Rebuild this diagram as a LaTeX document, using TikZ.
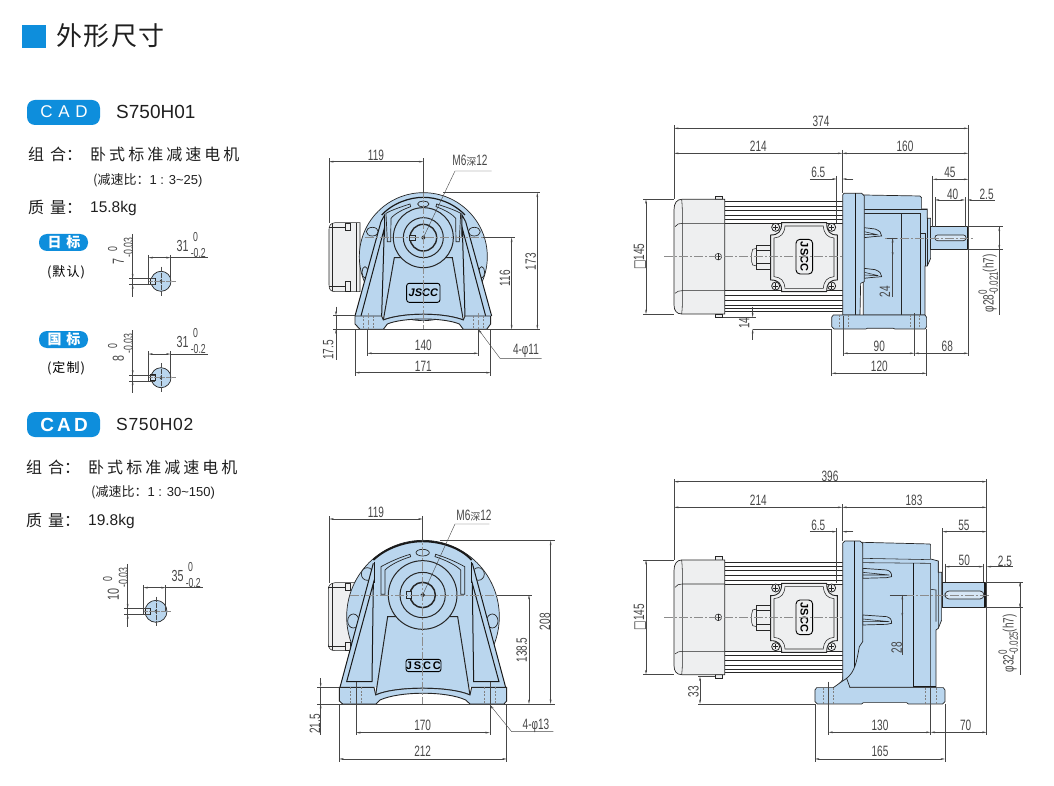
\documentclass[tikz,border=0pt]{standalone}
\usepackage{fontspec}
\usetikzlibrary{arrows.meta}
\setmainfont{Liberation Sans}
\newfontfamily\cjk[LetterSpace=19]{Noto Sans CJK SC}
\newfontfamily\cjkplain{Noto Sans CJK SC}
\newfontfamily\cjktitle[LetterSpace=6]{Noto Sans CJK SC}
\newfontfamily\cjknote[LetterSpace=8]{Noto Sans CJK SC}
\newfontfamily\codefont[LetterSpace=4]{Liberation Sans}
\newfontfamily\dimfont[FakeStretch=0.67]{Liberation Sans}
\newfontfamily\symfont[FakeStretch=0.67]{DejaVu Sans}
\definecolor{bodyblue}{RGB}{186,214,238}
\definecolor{motorgray}{RGB}{238,239,240}
\definecolor{capblue}{RGB}{14,142,220}
\definecolor{inkgray}{RGB}{70,70,70}
\tikzset{
	zoomed/.style={x=.3333pt,y=-.3333pt},
	part/.style={draw=black!85,line width=.7pt,fill=bodyblue},
	gpart/.style={draw=black!85,line width=.55pt,fill=motorgray},
	edge/.style={draw=black!85,line width=.55pt},
	heavy/.style={draw=black!90,line width=1pt},
	dim/.style={draw=inkgray,line width=.4pt,>={Stealth[length=4.5pt,width=1.8pt]}},
	axisline/.style={draw=black!45,line width=.5pt,dash pattern=on 9pt off 2pt on 2pt off 2pt},
	hidden/.style={draw=black!50,line width=.45pt,dash pattern=on 2pt off 1.5pt},
	dimtext/.style={font=\dimfont\fontsize{15}{17}\selectfont,text=inkgray,inner sep=0pt},
	vtext/.style={dimtext,rotate=90},
	sidetext/.style={anchor=west,inner sep=0pt,text=black!88},
	pill/.style={fill=capblue,rounded corners=8pt},
	jsccbox/.style={draw=black,line width=.9pt,fill=bodyblue,rounded corners=2.5pt}
}
\newcommand\tol[2]{\rlap{\raisebox{.85ex}{\fontsize{12}{12}\selectfont #1}}\raisebox{-.55ex}{\fontsize{12}{12}\selectfont #2}}
\newcommand\smalldim{\fontsize{13}{13}\selectfont}
% key detail: #1 place, #2 radius, #3 height, #4 width
\newcommand\keyview[4]{
	\begin{scope}[shift={#1},zoomed]
		\draw[part] (0,0) circle (#2);
		\draw[part,fill=bodyblue!70!white] (-33,-9) rectangle (-18,9);
		\fill[black!85] (0,0) circle (5);
		\draw[axisline,dash pattern=on 5pt off 1pt] (-38,0) -- (45,0);
		\draw[axisline,dash pattern=on 5pt off 1pt,draw=black!70] (0,-44) -- (0,46);
		\draw[dim] (-85,-142) -- (-85,46);
		\draw[dim] (-95,-9) -- (-18,-9);
		\draw[dim] (-95,9) -- (-18,9);
		\draw[dim,->] (-85,-30) -- (-85,-9);
		\draw[dim,->] (-85,30) -- (-85,9);
		\draw[dim] (-38,-79) -- (-38,9);
		\draw[dim] (29,-79) -- (29,0);
		\draw[dim,<->] (-38,-71) -- (29,-71);
		\draw[dim] (29,-71) -- (140,-71);
		\node[vtext,anchor=east,font=\dimfont\fontsize{16}{17}\selectfont] (keyh) at (-128,-68) {#3};
		\node[vtext] (keyh0) at (-145,-96) {\smalldim 0};
		\node[vtext] (keyhs) at (-98,-102) {\smalldim -0.03};
		\node[dimtext,font=\dimfont\fontsize{16}{17}\selectfont] (keyw) at (65,-107) {#4};
		\node[dimtext] (keyw0) at (104,-134) {\smalldim 0};
		\node[dimtext] (keyws) at (112,-86) {\smalldim -0.2};
	\end{scope}
}
% motor seen from the side, axis at y=440
\newcommand\motorside{
	\fill[white] (284,275) rectangle (640,605);
	\fill[motorgray] (284,340) rectangle (640,542);
	\foreach \ry in {275,288,300,315,328,340,542,555,570,585,595,605}
		\draw[edge] (284,\ry) -- (640,\ry);
	\draw[gpart] (255,268) -- (255,258) -- (278,258) -- (278,268) -- cycle;
	\draw[gpart] (255,612) -- (255,622) -- (278,622) -- (278,612) -- cycle;
	\draw[gpart,line width=.7pt] (284,268) -- (155,268) .. controls (140,268) and (132,280) .. (132,300) -- (132,585) .. controls (132,602) and (140,612) .. (155,612) -- (284,612) -- cycle;
	\draw[edge] (155,268) .. controls (158,300) and (157,320) .. (157,340) -- (157,542) .. controls (157,570) and (158,590) .. (155,612);
	\draw[edge] (135,350) .. controls (140,342) and (148,340) .. (157,340) -- (284,340);
	\draw[edge] (135,550) .. controls (140,544) and (148,542) .. (157,542) -- (284,542);
	\draw[edge] (265,440) circle (10);
	\draw[edge] (255,440) -- (275,440) (265,430) -- (265,450);
	% gland
	\draw[gpart] (380,415) -- (368,418) -- (365,430) -- (365,455) -- (368,465) -- (380,468) -- cycle;
	\draw[gpart] (380,405) rectangle (422,478);
	\draw[edge] (380,420) -- (422,420) (380,460) -- (422,460);
	% terminal box
	\draw[gpart,line width=.9pt] (455,338) -- (590,338) .. controls (590,365) and (600,375) .. (622,375) -- (622,510) .. controls (600,510) and (590,520) .. (590,545) -- (455,545) .. controls (455,520) and (445,510) .. (422,510) -- (422,375) .. controls (445,375) and (455,365) .. (455,338) -- cycle;
	\draw[edge] (465,348) -- (580,348) .. controls (582,372) and (592,382) .. (612,384) -- (612,500) .. controls (592,502) and (582,512) .. (580,535) -- (465,535) .. controls (463,512) and (453,502) .. (432,500) -- (432,384) .. controls (453,382) and (463,372) .. (465,348) -- cycle;
	\foreach \sx/\sy in {437/352,605/352,437/528,605/528}{
		\draw[gpart,line width=.8pt] (\sx,\sy) circle (12);
		\draw[edge] (\sx-8,\sy) -- (\sx+8,\sy) (\sx,\sy-8) -- (\sx,\sy+8);
	}
	\draw[jsccbox,fill=motorgray,rounded corners=4pt] (498,388) rectangle (548,492);
	\node[rotate=-90,inner sep=0pt,font=\bfseries\fontsize{11}{12}\selectfont] (sidelogo) at (523,440) {JSCC};
	\draw[axisline] (102,440) -- (655,440);
	\draw[axisline,dash pattern=on 8pt off 2pt] (665,440) -- (795,440);
}
\begin{document}
\begin{tikzpicture}[x=1pt,y=-1pt]
	\useasboundingbox (0,0) rectangle (1054,786);

	% left column
	\fill[capblue] (22,25) rectangle (46,48);
	\node[sidetext,font=\cjktitle\fontsize{26}{28}\selectfont] (title) at (56,36) {外形尺寸};

	\fill[pill] (27,100) rectangle (100,125);
	\node[inner sep=0pt,text=white,font=\fontsize{17}{18}\selectfont] (cadone) at (64,112) {C\,\,A\,\,D};
	\node[sidetext,font=\fontsize{19}{20}\selectfont] (codeone) at (116,112) {S750H01};
	\node[sidetext,font=\cjkplain\fontsize{16}{18}\selectfont] (combone) at (28,154) {组\hspace{6pt}合：};
	\node[sidetext,font=\cjk\fontsize{16}{18}\selectfont] (nameone) at (90,154) {卧式标准减速电机};
	\node[sidetext,font=\cjkplain\fontsize{13}{14}\selectfont] (ratioone) at (93,180) {(减速比：{\fontspec{Liberation Sans}1 : 3\textasciitilde25)}};
	\node[sidetext,font=\cjkplain\fontsize{16}{18}\selectfont] (massone) at (28,207) {质\hspace{6pt}量：};
	\node[sidetext,font=\fontsize{15.5}{18}\selectfont] (kgone) at (90,208) {15.8kg};
	\fill[pill] (39,234) rectangle (88,251);
	\node[inner sep=0pt,text=white,font=\cjkplain\bfseries\fontsize{14}{15}\selectfont] (jpstd) at (64,242.5) {日\hspace{5pt}标};
	\node[inner sep=0pt,font=\cjknote\fontsize{13}{14}\selectfont] (jpnote) at (66,272) {(默认)};
	\fill[pill] (39,331) rectangle (88,348);
	\node[inner sep=0pt,text=white,font=\cjkplain\bfseries\fontsize{14}{15}\selectfont] (cnstd) at (64,339.5) {国\hspace{5pt}标};
	\node[inner sep=0pt,font=\cjknote\fontsize{13}{14}\selectfont] (cnnote) at (66,368) {(定制)};

	\fill[pill] (27,412) rectangle (100,437);
	\node[inner sep=0pt,text=white,font=\bfseries\fontsize{19}{20}\selectfont] (cadtwo) at (64,424.5) {C\,A\,D};
	\node[sidetext,font=\codefont\fontsize{17.5}{20}\selectfont] (codetwo) at (116,424) {S750H02};
	\node[sidetext,font=\cjkplain\fontsize{16}{18}\selectfont] (combtwo) at (26,467) {组\hspace{6pt}合：};
	\node[sidetext,font=\cjk\fontsize{16}{18}\selectfont] (nametwo) at (88,467) {卧式标准减速电机};
	\node[sidetext,font=\cjkplain\fontsize{13}{14}\selectfont] (ratiotwo) at (91,492) {(减速比：{\fontspec{Liberation Sans}1 : 30\textasciitilde150)}};
	\node[sidetext,font=\cjkplain\fontsize{16}{18}\selectfont] (masstwo) at (26,520) {质\hspace{6pt}量：};
	\node[sidetext,font=\fontsize{15.5}{18}\selectfont] (kgtwo) at (88,521) {19.8kg};

	\keyview{(161,281.3)}{30}{7}{31}
	\keyview{(161,377.7)}{30}{8}{31}
	\keyview{(156,611.3)}{33}{10}{35}

	% front view S750H01
	\begin{scope}[shift={(310,140)},zoomed]
		\draw[gpart] (150,248) -- (75,248) .. controls (62,250) and (57,256) .. (57,268) -- (57,435) .. controls (57,448) and (62,455) .. (75,455) -- (150,455) -- cycle;
		\draw[edge] (67,250) -- (67,453) (57,262) -- (105,262) (57,438) -- (105,438) (138,248) -- (138,455);
		\draw[gpart] (105,250) rectangle (120,272) (105,425) rectangle (120,453);
		\draw[part] (340,350) circle (192);
		\foreach \sd in {1,-1}{
		\begin{scope}[shift={(340,0)},xscale=\sd,shift={(-340,0)}]
			\draw[part] (187,275) ellipse (18 and 13);
			\draw[part] (165,397) ellipse (9 and 17);
			\fill[bodyblue] (135,528) -- (213,245) -- (240,300) -- (230,528) -- cycle;
			\draw[heavy] (135,528) -- (213,245);
			\draw[heavy] (153,528) -- (223,265) -- (215,528);
			\draw[heavy] (213,245) -- (224,225) -- (224,290);
			\draw[part] (232,305) -- (228,220) .. controls (245,210) and (275,200) .. (300,192) -- (302,200) .. controls (280,208) and (255,220) .. (243,235) -- (242,305) -- cycle;
		\end{scope}
		}
		\draw[heavy,line width=1.2pt] (215,225) .. controls (250,188) and (300,172) .. (340,172) .. controls (380,172) and (430,188) .. (465,225);
		\draw[part] (340,192) ellipse (17 and 9);
		\draw[part,line width=1pt] (253,353) -- (427,353) -- (460,540) .. controls (400,517) and (280,517) .. (220,540) -- cycle;
		\draw[part,line width=1pt] (340,293) circle (90);
		\draw[part,line width=1pt] (340,293) circle (60);
		\draw[part,line width=1.4pt] (340,293) circle (40);
		\draw[part,line width=.9pt] (135,528) -- (215,528) -- (220,540) .. controls (280,517) and (400,517) .. (460,540) -- (465,528) -- (542,528) -- (542,552) -- (530,568) -- (460,568) -- (448,552) .. controls (400,532) and (280,532) .. (232,552) -- (220,568) -- (150,568) -- (135,552) -- cycle;
		\draw[part] (298,287) rectangle (315,302);
		\draw[part,line width=1pt] (340,293) circle (5);
		\draw[jsccbox] (290,430) rectangle (390,487);
		\node[inner sep=0pt,font=\bfseries\itshape\fontsize{11}{12}\selectfont] (frontlogo) at (340,458) {JSCC};
		\foreach \hx in {160,190,490,520} \draw[hidden] (\hx,528) -- (\hx,568);
		\draw[axisline] (340,60) -- (340,570);
		\draw[axisline] (165,293) -- (520,293);
		\draw[axisline,dash pattern=on 5pt off 2pt] (175,520) -- (175,568) (505,520) -- (505,568);
		% dimensions
		\draw[dim] (57,55) -- (57,248) (340,55) -- (340,158);
		\draw[dim,<->] (57,65) -- (340,65);
		\node[dimtext] (wone) at (198,45) {119};
		\draw[dim] (340,293) -- (435,93) -- (545,93);
		\node[dimtext] (holeone) at (480,62) {M6{\cjkplain\fontsize{10}{10}\selectfont 深}12};
		\draw[dim] (400,158) -- (690,158) (70,568) -- (690,568) (520,293) -- (615,293) (70,527) -- (135,527);
		\draw[dim,<->] (682,158) -- (682,568);
		\node[vtext] (hone) at (662,365) {173};
		\draw[dim,<->] (605,293) -- (605,568);
		\node[vtext] (axone) at (585,415) {116};
		\draw[dim] (78,527) -- (78,660);
		\draw[dim,->] (78,500) -- (78,527);
		\draw[dim,->] (78,595) -- (78,568);
		\node[vtext] (flone) at (55,630) {17.5};
		\draw[dim] (172,568) -- (172,648) (505,568) -- (505,648);
		\draw[dim,<->] (172,640) -- (505,640);
		\node[dimtext] (pitchone) at (340,615) {140};
		\draw[dim] (135,568) -- (135,708) (542,568) -- (542,708);
		\draw[dim,<->] (135,698) -- (542,698);
		\node[dimtext] (baseone) at (340,678) {171};
		\draw[dim,<-] (505,568) -- (570,655) -- (695,655);
		\node[dimtext] (boreone) at (648,633) {4-φ11};
	\end{scope}

	% side view S750H01
	\begin{scope}[shift={(630,110)},zoomed]
		\motorside
		\draw[part] (700,255) -- (870,258) -- (875,263) -- (875,297) -- (892,297) -- (892,325) -- (902,325) -- (902,445) -- (892,468) -- (885,468) -- (885,615) -- (700,615) -- cycle;
		\draw[edge] (700,297) -- (892,297) (700,310) -- (872,310) (815,615) -- (815,310) (872,310) -- (872,615) (872,370) -- (885,370) -- (885,468) (892,325) -- (892,468);
		\foreach \ty in {0,122}{
			\draw[part] (702,353+\ty) -- (735,357+\ty) .. controls (750,362+\ty) and (755,370+\ty) .. (755,378+\ty) -- (730,380+\ty) -- (702,383+\ty) -- cycle;
			\draw[edge] (703,365+\ty) -- (745,375+\ty) -- (703,373+\ty);
		}
		\draw[part] (638,255) -- (642,250) -- (695,250) -- (703,258) -- (703,515) -- (692,520) -- (690,615) -- (638,615) -- cycle;
		\draw[heavy] (678,250) -- (678,615);
		\draw[part] (605,622) -- (610,615) -- (885,615) -- (890,622) -- (890,650) -- (885,657) -- (795,657) -- (790,655) -- (712,655) -- (708,657) -- (612,657) -- (605,650) -- cycle;
		\foreach \hx in {628,655,840,868} \draw[hidden] (\hx,615) -- (\hx,657);
		\draw[part] (902,350) rectangle (1012,417);
		\draw[heavy,line width=1.3pt] (1012,350) -- (1012,417);
		\draw[part,fill=bodyblue!60!white,rounded corners=2.5pt] (915,375) rectangle (1008,392);
		\draw[axisline] (765,384) -- (1030,384);
		% dimensions
		\draw[dim] (132,45) -- (132,268) (1015,45) -- (1015,738) (637,120) -- (637,250);
		\draw[dim,<->] (132,55) -- (1015,55);
		\node[dimtext] (totone) at (573,35) {374};
		\draw[dim,<->] (132,130) -- (637,130);
		\node[dimtext] (motone) at (385,110) {214};
		\draw[dim,<->] (637,130) -- (1015,130);
		\node[dimtext] (gearone) at (825,108) {160};
		\draw[dim] (620,198) -- (620,340) (540,207) -- (605,207);
		\draw[dim,->] (600,207) -- (620,207);
		\draw[dim,->] (670,207) -- (637,207);
		\node[dimtext] (flangeone) at (565,187) {6.5};
		\draw[dim] (908,198) -- (908,350) (915,262) -- (915,350) (1005,262) -- (1005,350);
		\draw[dim,<->] (908,208) -- (1015,208);
		\node[dimtext] (shaftone) at (960,187) {45};
		\draw[dim,<->] (915,270) -- (1005,270);
		\node[dimtext] (keyone) at (968,252) {40};
		\draw[dim,->] (1095,270) -- (1012,270);
		\node[dimtext] (endone) at (1070,252) {2.5};
		\draw[dim] (40,268) -- (132,268) (40,612) -- (132,612);
		\draw[dim,<->] (48,268) -- (48,612);
		\node[vtext] (sqone) at (30,440) {{\symfont □}145};
		\draw[dim] (280,622) -- (378,622) (368,657) -- (605,657);
		\draw[dim,->] (368,590) -- (368,622);
		\draw[dim,->] (368,690) -- (368,657);
		\node[vtext] (lowone) at (343,640) {14};
		\draw[dim] (788,384) -- (788,560) (770,384) -- (800,384);
		\draw[dim,<->] (788,384) -- (788,440);
		\node[vtext] (offone) at (765,545) {24};
		\draw[dim] (1012,350) -- (1118,350) (1012,418) -- (1118,418) (1108,350) -- (1108,615);
		\draw[dim,<->] (1108,350) -- (1108,418);
		\node[vtext] (phione) at (1075,520) {φ28\tol{0}{-0.021}(h7)};
		\draw[dim] (640,618) -- (640,738) (853,610) -- (853,738) (605,658) -- (605,798) (890,658) -- (890,798);
		\draw[dim,<->] (640,730) -- (853,730);
		\node[dimtext] (spanone) at (748,708) {90};
		\draw[dim,<->] (853,730) -- (1015,730);
		\node[dimtext] (ovrone) at (952,708) {68};
		\draw[dim,<->] (605,790) -- (890,790);
		\node[dimtext] (lenone) at (748,770) {120};
	\end{scope}

	% front view S750H02
	\begin{scope}[shift={(300,500)},zoomed]
		\draw[gpart] (165,248) -- (105,248) .. controls (92,250) and (85,256) .. (85,268) -- (85,432) .. controls (85,445) and (92,452) .. (105,452) -- (165,452) -- cycle;
		\draw[edge] (97,250) -- (97,450) (85,262) -- (135,262) (85,438) -- (135,438);
		\draw[gpart] (137,250) rectangle (150,272) (137,428) rectangle (150,450);
		\draw[part] (369,350) circle (229);
		\foreach \sd in {1,-1}{
		\begin{scope}[shift={(368.5,0)},xscale=\sd,shift={(-368.5,0)}]
			\draw[part] (202,222) ellipse (18 and 19);
			\draw[part] (160,363) ellipse (17 and 21);
			\fill[bodyblue] (120,562) -- (220,185) -- (260,300) -- (230,562) -- cycle;
			\draw[heavy] (120,562) -- (220,190);
			\draw[heavy] (140,545) -- (220,250) -- (216,545) -- cycle;
			\draw[heavy] (223,185) -- (223,250);
			\draw[part] (243,283) -- (243,200) .. controls (270,185) and (300,172) .. (330,163) -- (332,170) .. controls (300,180) and (270,195) .. (255,210) -- (255,283) -- cycle;
		\end{scope}
		}
		\draw[heavy,line width=1.8pt] (220,180) .. controls (260,142) and (320,124) .. (368,124) .. controls (420,124) and (480,142) .. (515,180);
		\draw[part] (368,158) ellipse (20 and 10);
		\draw[part,line width=1pt] (263,350) -- (473,350) -- (510,585) .. controls (450,558) and (285,558) .. (227,585) -- cycle;
		\draw[part,line width=1pt] (368,285) circle (103);
		\draw[part,line width=1pt] (368,285) circle (68);
		\draw[part,line width=1.5pt] (368,285) circle (38);
		\draw[part,line width=.9pt] (118,562) -- (222,562) -- (227,585) .. controls (285,558) and (450,558) .. (510,585) -- (515,562) -- (620,562) -- (620,603) -- (612,612) -- (510,612) -- (497,600) .. controls (440,573) and (300,573) .. (240,600) -- (228,612) -- (128,612) -- (118,603) -- cycle;
		\draw[part] (320,275) rectangle (335,295);
		\draw[part,line width=1pt] (368,285) circle (5);
		\draw[jsccbox] (318,478) rectangle (423,515);
		\node[inner sep=0pt,font=\bfseries\fontsize{11}{12}\selectfont] (frontlogotwo) at (370,497) {J\,S\,C\,C};
		\foreach \hx in {152,185,552,585} \draw[hidden] (\hx,562) -- (\hx,612);
		\draw[axisline] (368,50) -- (368,615);
		\draw[axisline] (150,285) -- (590,285);
		% dimensions
		\draw[dim] (88,48) -- (88,250) (368,48) -- (368,125);
		\draw[dim,<->] (88,57) -- (368,57);
		\node[dimtext] (wtwo) at (228,38) {119};
		\draw[dim] (368,285) -- (465,72) -- (568,72);
		\node[dimtext] (holetwo) at (522,47) {M6{\cjkplain\fontsize{10}{10}\selectfont 深}12};
		\draw[dim] (420,122) -- (765,122) (52,612) -- (765,612) (590,285) -- (695,285) (52,562) -- (118,562);
		\draw[dim,<->] (752,122) -- (752,612);
		\node[vtext] (htwo) at (735,365) {208};
		\draw[dim,<->] (687,285) -- (687,612);
		\node[vtext] (axtwo) at (665,450) {138.5};
		\draw[dim] (62,562) -- (62,705);
		\draw[dim,->] (62,535) -- (62,562);
		\draw[dim,->] (62,640) -- (62,612);
		\node[vtext] (fltwo) at (45,672) {21.5};
		\draw[dim] (168,545) -- (168,706) (570,545) -- (570,706);
		\draw[dim,<->] (168,698) -- (570,698);
		\node[dimtext] (pitchtwo) at (368,675) {170};
		\draw[dim] (118,612) -- (118,785) (620,612) -- (620,785);
		\draw[dim,<->] (118,777) -- (620,777);
		\node[dimtext] (basetwo) at (368,755) {212};
		\draw[dim,<-] (570,615) -- (635,695) -- (760,695);
		\node[dimtext] (boretwo) at (708,677) {4-φ13};
	\end{scope}

	% side view S750H02
	\begin{scope}[shift={(630,465)},zoomed]
		\begin{scope}[shift={(0,17)}]
			\motorside
		\end{scope}
		\draw[part] (698,232) -- (900,237) -- (902,240) -- (902,282) -- (925,288) -- (925,322) -- (935,322) -- (935,465) -- (925,490) -- (918,495) -- (918,667) -- (640,667) -- (638,640) -- cycle;
		\draw[edge] (698,280) -- (902,284) (698,293) -- (902,295) (902,295) -- (902,667) (902,373) -- (918,375) -- (918,470) (925,288) -- (925,490);
		\draw[heavy] (850,295) -- (850,665) -- (918,665);
		\foreach \ty in {0,140}{
			\draw[part] (698,310+\ty) -- (770,315+\ty) .. controls (780,318+\ty) and (785,322+\ty) .. (785,335+\ty) -- (770,338+\ty) -- (698,340+\ty) -- cycle;
			\draw[edge] (698,322+\ty) -- (778,330+\ty) -- (698,330+\ty);
		}
		\draw[part] (638,235) -- (645,228) -- (690,228) -- (698,235) -- (698,530) -- (688,545) .. controls (680,590) and (675,620) .. (650,640) .. controls (640,655) and (630,665) .. (615,670) -- (638,645) -- cycle;
		\draw[heavy] (673,228) -- (673,605);
		\draw[part] (555,675) -- (560,668) -- (610,668) -- (638,648) -- (650,640) -- (660,668) -- (940,668) -- (945,675) -- (945,710) -- (938,717) -- (835,717) -- (830,713) -- (700,713) -- (695,717) -- (562,717) -- (555,710) -- cycle;
		\foreach \hx in {580,610,885,920} \draw[hidden] (\hx,668) -- (\hx,717);
		\draw[part] (938,352) rectangle (1065,428);
		\draw[heavy,line width=1.3pt] (1065,352) -- (1065,428);
		\draw[part,fill=bodyblue!60!white,rounded corners=4pt] (945,378) rectangle (1062,402);
		\draw[axisline] (780,390) -- (1080,390);
		% dimensions
		\draw[dim] (132,42) -- (132,285) (1070,42) -- (1070,810) (637,118) -- (637,228);
		\draw[dim,<->] (132,50) -- (1070,50);
		\node[dimtext] (tottwo) at (600,33) {396};
		\draw[dim,<->] (132,127) -- (637,127);
		\node[dimtext] (mottwo) at (385,105) {214};
		\draw[dim,<->] (637,127) -- (1070,127);
		\node[dimtext] (geartwo) at (852,105) {183};
		\draw[dim] (620,190) -- (620,355) (540,200) -- (605,200);
		\draw[dim,->] (600,200) -- (620,200);
		\draw[dim,->] (670,200) -- (637,200);
		\node[dimtext] (flangetwo) at (565,182) {6.5};
		\draw[dim] (937,190) -- (937,352) (945,296) -- (945,352) (1060,296) -- (1060,352);
		\draw[dim,<->] (937,200) -- (1070,200);
		\node[dimtext] (shafttwo) at (1002,180) {55};
		\draw[dim,<->] (945,305) -- (1060,305);
		\node[dimtext] (keytwo) at (1003,285) {50};
		\draw[dim,->] (1148,305) -- (1070,305);
		\node[dimtext] (endtwo) at (1125,288) {2.5};
		\draw[dim] (40,285) -- (132,285) (40,628) -- (132,628);
		\draw[dim,<->] (48,285) -- (48,628);
		\node[vtext] (sqtwo) at (30,457) {{\symfont □}145};
		\draw[dim] (205,635) -- (255,635) (205,717) -- (555,717);
		\draw[dim,<->] (210,635) -- (210,717);
		\node[vtext] (lowtwo) at (190,680) {33};
		\draw[dim] (817,390) -- (817,570) (780,390) -- (830,390);
		\draw[dim,<->] (817,390) -- (817,457);
		\node[vtext] (offtwo) at (800,548) {28};
		\draw[dim] (1065,352) -- (1180,352) (1065,428) -- (1180,428) (1170,352) -- (1170,630);
		\draw[dim,<->] (1170,352) -- (1170,428);
		\node[vtext] (phitwo) at (1135,535) {φ32\tol{0}{-0.025}(h7)};
		\draw[dim] (595,650) -- (595,810) (902,668) -- (902,810) (555,717) -- (555,890) (945,717) -- (945,890);
		\draw[dim,<->] (595,802) -- (902,802);
		\node[dimtext] (spantwo) at (750,780) {130};
		\draw[dim,<->] (902,802) -- (1070,802);
		\node[dimtext] (ovrtwo) at (1007,782) {70};
		\draw[dim,<->] (555,882) -- (945,882);
		\node[dimtext] (lentwo) at (750,860) {165};
	\end{scope}
\end{tikzpicture}
\end{document}
